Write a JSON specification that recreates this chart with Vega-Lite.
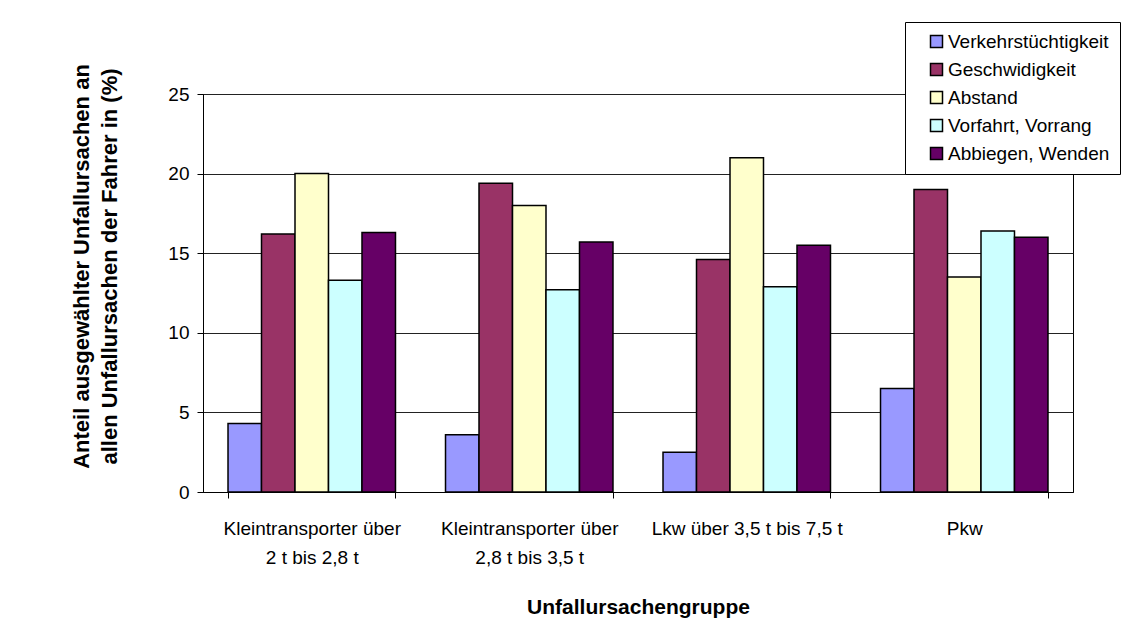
{
  "$schema": "https://vega.github.io/schema/vega-lite/v6.json",
  "autosize": "none",
  "width": 870,
  "height": 398,
  "padding": {"left": 203, "top": 94, "right": 60, "bottom": 146},
  "background": "white",
  "config": {
    "font": "Liberation Sans",
    "view": {"stroke": "black", "strokeWidth": 1},
    "axis": {
      "domainColor": "black",
      "tickColor": "black",
      "labelColor": "black",
      "titleColor": "black",
      "labelFont": "Liberation Sans",
      "titleFont": "Liberation Sans"
    }
  },
  "data": {
    "values": [
      {"gruppe": "Kleintransporter über 2 t bis 2,8 t", "ursache": "Verkehrstüchtigkeit", "anteil": 4.3},
      {"gruppe": "Kleintransporter über 2 t bis 2,8 t", "ursache": "Geschwidigkeit", "anteil": 16.2},
      {"gruppe": "Kleintransporter über 2 t bis 2,8 t", "ursache": "Abstand", "anteil": 20.0},
      {"gruppe": "Kleintransporter über 2 t bis 2,8 t", "ursache": "Vorfahrt, Vorrang", "anteil": 13.3},
      {"gruppe": "Kleintransporter über 2 t bis 2,8 t", "ursache": "Abbiegen, Wenden", "anteil": 16.3},
      {"gruppe": "Kleintransporter über 2,8 t bis 3,5 t", "ursache": "Verkehrstüchtigkeit", "anteil": 3.6},
      {"gruppe": "Kleintransporter über 2,8 t bis 3,5 t", "ursache": "Geschwidigkeit", "anteil": 19.4},
      {"gruppe": "Kleintransporter über 2,8 t bis 3,5 t", "ursache": "Abstand", "anteil": 18.0},
      {"gruppe": "Kleintransporter über 2,8 t bis 3,5 t", "ursache": "Vorfahrt, Vorrang", "anteil": 12.7},
      {"gruppe": "Kleintransporter über 2,8 t bis 3,5 t", "ursache": "Abbiegen, Wenden", "anteil": 15.7},
      {"gruppe": "Lkw über 3,5 t bis 7,5 t", "ursache": "Verkehrstüchtigkeit", "anteil": 2.5},
      {"gruppe": "Lkw über 3,5 t bis 7,5 t", "ursache": "Geschwidigkeit", "anteil": 14.6},
      {"gruppe": "Lkw über 3,5 t bis 7,5 t", "ursache": "Abstand", "anteil": 21.0},
      {"gruppe": "Lkw über 3,5 t bis 7,5 t", "ursache": "Vorfahrt, Vorrang", "anteil": 12.9},
      {"gruppe": "Lkw über 3,5 t bis 7,5 t", "ursache": "Abbiegen, Wenden", "anteil": 15.5},
      {"gruppe": "Pkw", "ursache": "Verkehrstüchtigkeit", "anteil": 6.5},
      {"gruppe": "Pkw", "ursache": "Geschwidigkeit", "anteil": 19.0},
      {"gruppe": "Pkw", "ursache": "Abstand", "anteil": 13.5},
      {"gruppe": "Pkw", "ursache": "Vorfahrt, Vorrang", "anteil": 16.4},
      {"gruppe": "Pkw", "ursache": "Abbiegen, Wenden", "anteil": 16.0}
    ]
  },
  "mark": {"type": "bar", "stroke": "black", "strokeWidth": 1.5},
  "encoding": {
    "x": {
      "field": "gruppe",
      "type": "nominal",
      "sort": null,
      "scale": {"paddingInner": 0.23, "paddingOuter": 0.115},
      "axis": {
        "title": "Unfallursachengruppe",
        "titleFontSize": 21,
        "titleFontWeight": "bold",
        "titlePadding": 29,
        "labelAngle": 0,
        "labelFontSize": 19,
        "labelLineHeight": 29,
        "labelPadding": 21,
        "labelLimit": 300,
        "tickBand": "extent",
        "tickSize": 6,
        "labelExpr": "datum.value == 'Kleintransporter über 2 t bis 2,8 t' ? ['Kleintransporter über', '2 t bis 2,8 t'] : datum.value == 'Kleintransporter über 2,8 t bis 3,5 t' ? ['Kleintransporter über', '2,8 t bis 3,5 t'] : datum.value"
      }
    },
    "xOffset": {
      "field": "ursache",
      "sort": ["Verkehrstüchtigkeit", "Geschwidigkeit", "Abstand", "Vorfahrt, Vorrang", "Abbiegen, Wenden"]
    },
    "y": {
      "field": "anteil",
      "type": "quantitative",
      "scale": {"domain": [0, 25]},
      "axis": {
        "title": ["Anteil ausgewählter Unfallursachen an", "allen Unfallursachen der Fahrer in (%)"],
        "titleFontSize": 22,
        "titleFontWeight": "bold",
        "titleLineHeight": 28,
        "titlePadding": 46,
        "titleY": 172,
        "values": [0, 5, 10, 15, 20, 25],
        "labelFontSize": 19,
        "labelPadding": 8,
        "tickSize": 6,
        "grid": true,
        "gridColor": "#222222",
        "gridWidth": 1
      }
    },
    "color": {
      "field": "ursache",
      "type": "nominal",
      "sort": ["Verkehrstüchtigkeit", "Geschwidigkeit", "Abstand", "Vorfahrt, Vorrang", "Abbiegen, Wenden"],
      "scale": {
        "domain": ["Verkehrstüchtigkeit", "Geschwidigkeit", "Abstand", "Vorfahrt, Vorrang", "Abbiegen, Wenden"],
        "range": ["#9999FF", "#993366", "#FFFFCC", "#CCFFFF", "#660066"]
      },
      "legend": {
        "title": null,
        "orient": "none",
        "legendX": 702,
        "legendY": -72,
        "fillColor": "white",
        "strokeColor": "black",
        "padding": 10,
        "symbolType": "square",
        "symbolSize": 144,
        "symbolStrokeColor": "black",
        "symbolStrokeWidth": 1.5,
        "symbolOffset": 12,
        "labelFontSize": 19,
        "labelColor": "black",
        "labelOffset": 2,
        "labelLimit": 300,
        "rowPadding": 8
      }
    }
  }
}
